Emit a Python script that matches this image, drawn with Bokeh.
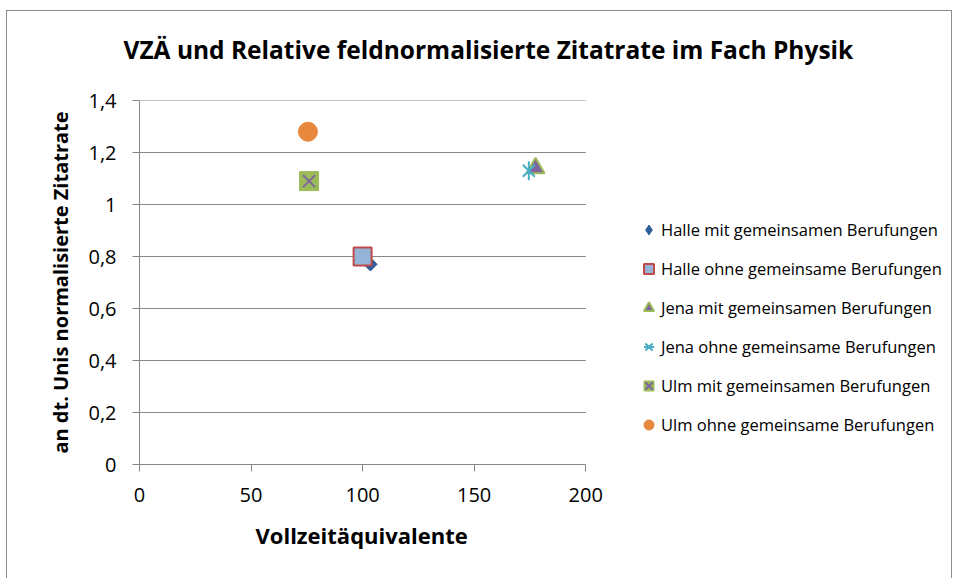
import math
from bokeh.plotting import figure
from bokeh.models import Legend, LegendItem, FixedTicker, Title
from bokeh.embed import file_html
from bokeh.resources import INLINE

# ---- data ----
series_names = [
    "Halle mit gemeinsamen Berufungen",
    "Halle ohne gemeinsame Berufungen",
    "Jena mit gemeinsamen Berufungen",
    "Jena ohne gemeinsame Berufungen",
    "Ulm mit gemeinsamen Berufungen",
    "Ulm ohne gemeinsame Berufungen",
]
halle_mit_x = [103.5]
halle_mit_y = [0.77]
halle_ohne_x = [100]
halle_ohne_y = [0.80]
jena_mit_x = [177.5]
jena_mit_y = [1.14]
jena_ohne_x = [174.5]
jena_ohne_y = [1.13]
ulm_mit_x = [76]
ulm_mit_y = [1.09]
ulm_ohne_x = [75.5]
ulm_ohne_y = [1.28]

x_ticks = [0, 50, 100, 150, 200]
y_ticks = [0, 0.2, 0.4, 0.6, 0.8, 1.0, 1.2, 1.4]
y_tick_labels = ["0", "0,2", "0,4", "0,6", "0,8", "1", "1,2", "1,4"]

title_text = "VZÄ und Relative feldnormalisierte Zitatrate im Fach Physik"
x_label = "Vollzeitäquivalente"
y_label = "an dt. Unis normalisierte Zitatrate"

FONT = "Open Sans"
GRAY = "#868686"

x_min, x_max = x_ticks[0], x_ticks[-1]
# the frame runs on to the right so that the legend can sit inside it;
# axis and grid lines stop at x_max
p = figure(width=946, height=568, output_backend="svg", toolbar_location=None,
           x_range=(0, 362.6), y_range=(0, 1.4), title=None,
           min_border_left=132, min_border_right=5, min_border_top=89, min_border_bottom=115)
p.styles = {"margin-left": "6px", "margin-top": "10px",
            "border-left": "1px solid #8c8c8c", "border-top": "1px solid #8c8c8c",
            "border-right": "1px solid #8c8c8c"}

# spacer (nearest to frame), then main title above it
p.add_layout(Title(text=" ", text_font=FONT, text_font_size="20px", standoff=1), "above")
p.add_layout(Title(text=title_text, text_font=FONT, text_font_size="24.5px",
                   text_font_style="bold", text_color="#000000",
                   align="left", offset=-16), "above")

p.outline_line_color = None
p.background_fill_color = "white"
p.border_fill_color = "white"

p.xgrid.grid_line_color = None
p.ygrid.grid_line_color = None
# horizontal gridlines, from x_min to x_max only
p.segment(x0=[x_min] * len(y_ticks), x1=[x_max] * len(y_ticks), y0=y_ticks, y1=y_ticks,
          line_color=GRAY, line_width=1)

p.xaxis.ticker = FixedTicker(ticks=x_ticks)
p.yaxis.ticker = FixedTicker(ticks=y_ticks)
p.yaxis.major_label_overrides = {t: l for t, l in zip(y_ticks, y_tick_labels)}
p.xaxis.bounds = (x_min, x_max)

for ax in (p.xaxis, p.yaxis):
    ax.axis_line_color = GRAY
    ax.major_tick_line_color = GRAY
    ax.minor_tick_line_color = None
    ax.major_tick_in = 0
    ax.major_tick_out = 7
    ax.major_label_text_font = FONT
    ax.major_label_text_font_size = "20px"
    ax.major_label_text_color = "#000000"
    ax.axis_label_text_font = FONT
    ax.axis_label_text_font_style = "bold"
    ax.axis_label_text_color = "#000000"

p.yaxis.axis_label = y_label
p.yaxis.axis_label_text_font_size = "20px"
p.xaxis.major_label_standoff = 16
p.yaxis.major_label_standoff = 16
p.yaxis.axis_label_standoff = 11

# x axis title, placed under the tick labels
p.add_layout(Title(text=x_label, text_font=FONT, text_font_size="22px",
                   text_font_style="bold", text_color="#000000",
                   align="left", offset=116, standoff=26), "below")

DIAMOND_BLUE = "#2F5D9A"
r1 = p.scatter(halle_mit_x, halle_mit_y, marker="square", size=9.5, angle=math.pi / 4,
               fill_color=DIAMOND_BLUE, line_color=DIAMOND_BLUE, line_width=1)
# legend-only diamond (size 0, so it draws nothing in the plot area)
r1_leg = p.scatter(halle_mit_x, halle_mit_y, marker="diamond", size=0,
                   fill_color=DIAMOND_BLUE, line_color=DIAMOND_BLUE, line_width=1)
r2 = p.scatter(halle_ohne_x, halle_ohne_y, marker="square", size=18,
               fill_color="#95B3D7", line_color="#BE4B48", line_width=2)
r3 = p.scatter(jena_mit_x, jena_mit_y, marker="triangle", size=18,
               fill_color="#8064A2", line_color="#9BBB59", line_width=2)
r4 = p.scatter(jena_ohne_x, jena_ohne_y, marker="x", size=17,
               line_color="#4BACC6", line_width=2)
r4b = p.scatter(jena_ohne_x, jena_ohne_y, marker="dash", size=19, angle=math.pi / 2,
                line_color="#4BACC6", line_width=2)
r5 = p.scatter(ulm_mit_x, ulm_mit_y, marker="square", size=19,
               fill_color="#9BBB59", line_color="#9BBB59", line_width=1)
r5b = p.scatter(ulm_mit_x, ulm_mit_y, marker="x", size=17,
                line_color="#8064A2", line_width=2)
r6 = p.scatter(ulm_ohne_x, ulm_ohne_y, marker="circle", size=19,
               fill_color="#E8883E", line_color="#E8883E", line_width=1)

items = [
    LegendItem(label=series_names[0], renderers=[r1_leg]),
    LegendItem(label=series_names[1], renderers=[r2]),
    LegendItem(label=series_names[2], renderers=[r3]),
    LegendItem(label=series_names[3], renderers=[r4, r4b]),
    LegendItem(label=series_names[4], renderers=[r5, r5b]),
    LegendItem(label=series_names[5], renderers=[r6]),
]
legend = Legend(items=items, location=(497, 27))
legend.glyph_width = 25
legend.glyph_height = 25
legend.label_standoff = 0
legend.spacing = 14
legend.padding = 0
legend.margin = 0
legend.border_line_color = None
legend.background_fill_alpha = 0
legend.label_text_font = FONT
legend.label_text_font_size = "16.5px"
legend.label_text_color = "#000000"
legend.label_height = 20
p.add_layout(legend, "center")

open("out.html", "w").write(file_html(p, INLINE))
